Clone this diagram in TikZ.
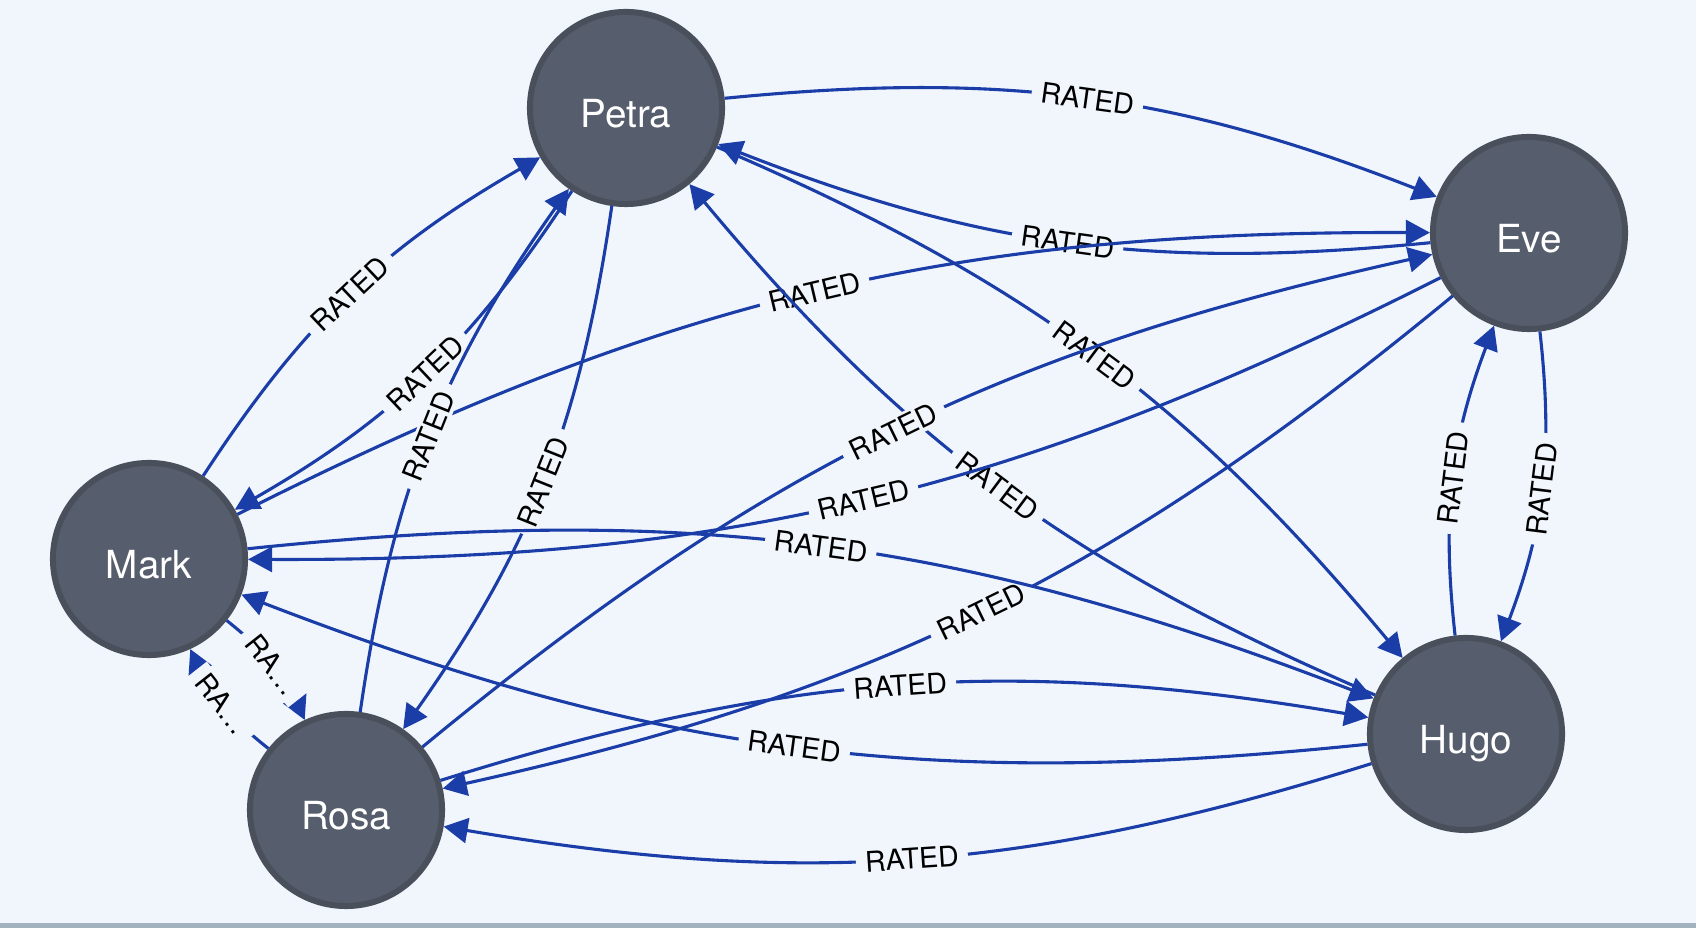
\documentclass[tikz,border=0pt]{standalone}
\usepackage{fontspec}
\newfontfamily\heros{TeX Gyre Heros}
\usetikzlibrary{arrows.meta}
\definecolor{canvas}{HTML}{F1F6FD}
\definecolor{nodefill}{HTML}{565D6C}
\definecolor{nodeline}{HTML}{494F5B}
\definecolor{relblue}{HTML}{1A3DA8}
\definecolor{stripe}{HTML}{A2B3BF}

\begin{document}
\begin{tikzpicture}[x=0.01cm, y=-0.01cm, >={Triangle[length=0.24cm,width=0.25cm]},
	person/.style={circle, draw=nodeline, fill=nodefill, line width=0.06cm, minimum size=1.92cm,
		text=white, font=\heros\fontsize{11}{13}\selectfont, text height=0.38cm, text depth=0pt},
	rated/.style={->, draw=relblue, fill=none, line width=0.031cm, bend left=13.5},
	rlabel/.style={sloped, fill=canvas, inner xsep=2.6pt, inner ysep=1pt, text=black,
		font=\heros\fontsize{8.1}{9}\selectfont}]
	% Nền và dải dưới
	\fill[canvas] (0,0) rectangle (1696,928);
	\fill[stripe] (0,923) rectangle (1696,928);
	
	% Các đỉnh
	\node[person] (petra) at (626,108) {Petra};
	\node[person] (eve) at (1529,233) {Eve};
	\node[person] (mark) at (149,559) {Mark};
	\node[person] (hugo) at (1466,734) {Hugo};
	\node[person] (rosa) at (346,810) {Rosa};
	
	% Các cạnh RATED
	\draw[rated] (petra) to node[rlabel] {RATED} (eve);
	\draw[rated] (eve) to node[rlabel] {RATED} (petra);
	\draw[rated] (mark) to node[rlabel] {RATED} (eve);
	\draw[rated] (mark) to node[rlabel] {RATED} (petra);
	\draw[rated] (petra) to node[rlabel] {RATED} (mark);
	\draw[rated] (rosa) to node[rlabel] {RATED} (petra);
	\draw[rated] (petra) to node[rlabel] {RATED} (rosa);
	\draw[rated] (petra) to node[rlabel] {RATED} (hugo);
	\draw[rated] (hugo) to node[rlabel] {RATED} (petra);
	\draw[rated] (rosa) to node[rlabel] {RATED} (eve);
	\draw[rated] (eve) to node[rlabel] {RATED} (rosa);
	\draw[rated] (eve) to node[rlabel] {RATED} (mark);
	\draw[rated] (mark) to node[rlabel] {RATED} (hugo);
	\draw[rated] (rosa) to node[rlabel] {RATED} (hugo);
	\draw[rated] (hugo) to node[rlabel] {RATED} (mark);
	\draw[rated] (hugo) to node[rlabel] {RATED} (rosa);
	\draw[rated] (hugo) to node[rlabel] {RATED} (eve);
	\draw[rated] (eve) to node[rlabel] {RATED} (hugo);
	% Hai cạnh ngắn giữa Mark và Rosa
	\draw[rated] (mark) to node[rlabel] {RA\ldots} (rosa);
	\draw[rated] (rosa) to node[rlabel] {RA\ldots} (mark);
\end{tikzpicture}
\end{document}
